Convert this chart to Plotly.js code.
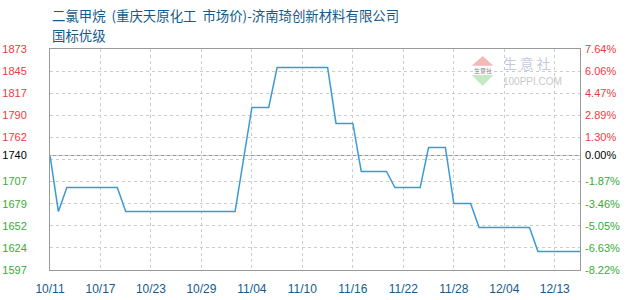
<!DOCTYPE html>
<html>
<head>
<meta charset="utf-8">
<script src="https://cdn.plot.ly/plotly-3.0.1.min.js"></script>
<style>
  html, body { margin: 0; padding: 0; background: #fff; }
  #chart { width: 630px; height: 300px; }
</style>
</head>
<body>
<div id="chart"></div>
<script>
// Quote dates (MM/DD)
const dates = [
  '10/11','10/12','10/13','10/14','10/15','10/16','10/17','10/18','10/19','10/20',
  '10/21','10/22','10/23','10/24','10/25','10/26','10/27','10/28','10/29','10/30',
  '10/31','11/01','11/02','11/03','11/04','11/05','11/06','11/07','11/08','11/09',
  '11/10','11/11','11/12','11/13','11/14','11/15','11/16','11/17','11/18','11/19',
  '11/20','11/21','11/22','11/23','11/24','11/25','11/26','11/27','11/28','11/29',
  '11/30','12/01','12/02','12/03','12/04','12/05','12/06','12/09','12/10','12/11',
  '12/13','12/14','12/15','12/16'
];

// Market price, yuan/ton (null = no quote that day)
const price = [
  1740, 1670, 1700, 1700, 1700, 1700, 1700, 1700, 1700, 1670,
  1670, 1670, 1670, 1670, 1670, 1670, 1670, 1670, 1670, 1670,
  1670, 1670, 1670, null, 1800, 1800, 1800, 1850, 1850, 1850,
  1850, 1850, 1850, 1850, 1780, 1780, 1780, 1720, 1720, 1720,
  1720, 1700, 1700, 1700, 1700, 1750, 1750, 1750, 1680, 1680,
  1680, 1650, 1650, 1650, 1650, 1650, 1650, 1650, 1620, 1620,
  1620, 1620, 1620, 1620
];

// Axis labels (bottom to top)
const priceLabels = ['1597','1624','1652','1679','1707','','1740','1762','1790','1817','1845','1873'];
const pctLabels   = ['-8.22%','-6.63%','-5.05%','-3.46%','-1.87%','','0.00%','1.30%','2.89%','4.47%','6.06%','7.64%'];

const titleLine1 = '二氯甲烷\u00a0\u00a0(重庆天原化工\u00a0\u00a0市场价)-济南琦创新材料有限公司';
const titleLine2 = '国标优级';

const RED = '#ee3b3b', GREEN = '#35ad35', BLACK = '#000000';
const NAVY = '#145a8a';

// Range: data extent padded by 10% on each side
const vals = price.filter(v => v !== null);
const hi = Math.max(...vals), lo = Math.min(...vals);
const pad = (hi - lo) * 0.1;
const yMin = lo - pad, yMax = hi + pad;
const basePrice = price[0];

// Ten equal grid steps plus the base price
const step = (yMax - yMin) / 10;
const gridVals = [];
for (let i = 0; i <= 10; i++) gridVals.push(yMin + step * i);
const tickVals = gridVals.slice(0, 6).concat([basePrice], gridVals.slice(6));

function colored(labels) {
  return labels.map((t, i) => {
    if (t === '') return '';
    const v = tickVals[i];
    const c = v > basePrice + 1e-6 ? RED : (v < basePrice - 1e-6 ? GREEN : BLACK);
    return '<span style="color:' + c + '">' + t + '</span>';
  });
}

const traces = [
  {
    x: dates, y: price, type: 'scatter', mode: 'lines',
    connectgaps: true,
    line: { color: '#3a9ad8', width: 1.5 },
    hoverinfo: 'x+y', showlegend: false
  },
  {
    x: dates, y: price, type: 'scatter', mode: 'lines', yaxis: 'y2',
    connectgaps: true,
    line: { color: 'rgba(0,0,0,0)', width: 0 },
    hoverinfo: 'skip', showlegend: false
  }
];

// Logo geometry in paper units
const logo = {
  upper: 'M 0.7957 0.9244 L 0.8364 0.9244 L 0.8164 0.9683 Z',
  lower: 'M 0.7957 0.8824 L 0.8364 0.8824 L 0.8164 0.8326 Z'
};

const layout = {
  width: 630, height: 300,
  margin: { l: 50, r: 50, t: 49, b: 30, pad: 0 },
  paper_bgcolor: '#ffffff', plot_bgcolor: '#ffffff',
  font: { family: 'Liberation Sans, Arial, sans-serif', size: 11, color: '#000' },
  xaxis: {
    type: 'category',
    range: [0, dates.length - 1],
    tickmode: 'linear', tick0: 0, dtick: 6,
    ticks: '', ticklabelstandoff: 8,
    tickfont: { family: 'Liberation Sans, Arial, sans-serif', size: 12, color: NAVY },
    showgrid: true, gridcolor: '#cccccc', gridwidth: 1, griddash: '3px,3px',
    showline: true, linecolor: '#999999', linewidth: 1, mirror: true,
    zeroline: false, fixedrange: true
  },
  yaxis: {
    range: [yMin, yMax],
    tickmode: 'array', tickvals: tickVals, ticktext: colored(priceLabels),
    ticks: '', ticklabelstandoff: 20,
    tickfont: { family: 'Liberation Sans, Arial, sans-serif', size: 11 },
    showgrid: true, gridcolor: '#cccccc', gridwidth: 1, griddash: '3px,3px',
    showline: true, linecolor: '#999999', linewidth: 1, mirror: true,
    zeroline: false, fixedrange: true
  },
  yaxis2: {
    overlaying: 'y', side: 'right',
    range: [yMin, yMax],
    tickmode: 'array', tickvals: tickVals, ticktext: colored(pctLabels),
    ticks: '', ticklabelstandoff: 4,
    tickfont: { family: 'Liberation Sans, Arial, sans-serif', size: 11 },
    showgrid: false, showline: false, zeroline: false, fixedrange: true
  },
  shapes: [
    {
      type: 'line', xref: 'paper', yref: 'y',
      x0: 0, x1: 1, y0: basePrice, y1: basePrice,
      line: { color: '#999999', width: 1 }, layer: 'below'
    },
    { type: 'path', xref: 'paper', yref: 'paper', path: logo.upper,
      fillcolor: '#f5b8b8', line: { width: 0 }, layer: 'below' },
    { type: 'path', xref: 'paper', yref: 'paper', path: logo.lower,
      fillcolor: '#c4e9c4', line: { width: 0 }, layer: 'below' }
  ],
  annotations: [
    {
      text: titleLine1, xref: 'paper', yref: 'paper', x: 0, y: 1.154,
      xanchor: 'left', yanchor: 'middle', showarrow: false,
      font: { family: 'Noto Sans CJK SC, sans-serif', size: 13.4, color: NAVY }
    },
    {
      text: titleLine2, xref: 'paper', yref: 'paper', x: 0, y: 1.063,
      xanchor: 'left', yanchor: 'middle', showarrow: false,
      font: { family: 'Noto Sans CJK SC, sans-serif', size: 13.4, color: NAVY }
    },
    {
      text: '生意社', xref: 'paper', yref: 'paper', x: 0.8164, y: 0.9034,
      xanchor: 'center', yanchor: 'middle', showarrow: false,
      font: { family: 'Noto Sans CJK SC, sans-serif', size: 6, color: '#8a8a8a' }
    },
    {
      text: '生\u2009意\u2009社', xref: 'paper', yref: 'paper', x: 0.90, y: 0.935,
      xanchor: 'center', yanchor: 'middle', showarrow: false,
      font: { family: 'Noto Sans CJK SC, sans-serif', size: 14, color: '#c6cbdc' }
    },
    {
      text: '100PPI.COM', xref: 'paper', yref: 'paper', x: 0.911, y: 0.855,
      xanchor: 'center', yanchor: 'middle', showarrow: false,
      font: { family: 'Liberation Sans, Arial, sans-serif', size: 10, color: '#c8c8c8' }
    }
  ],
  showlegend: false,
  hovermode: 'closest'
};

Plotly.newPlot('chart', traces, layout, { displayModeBar: false, staticPlot: true });
</script>
</body>
</html>
